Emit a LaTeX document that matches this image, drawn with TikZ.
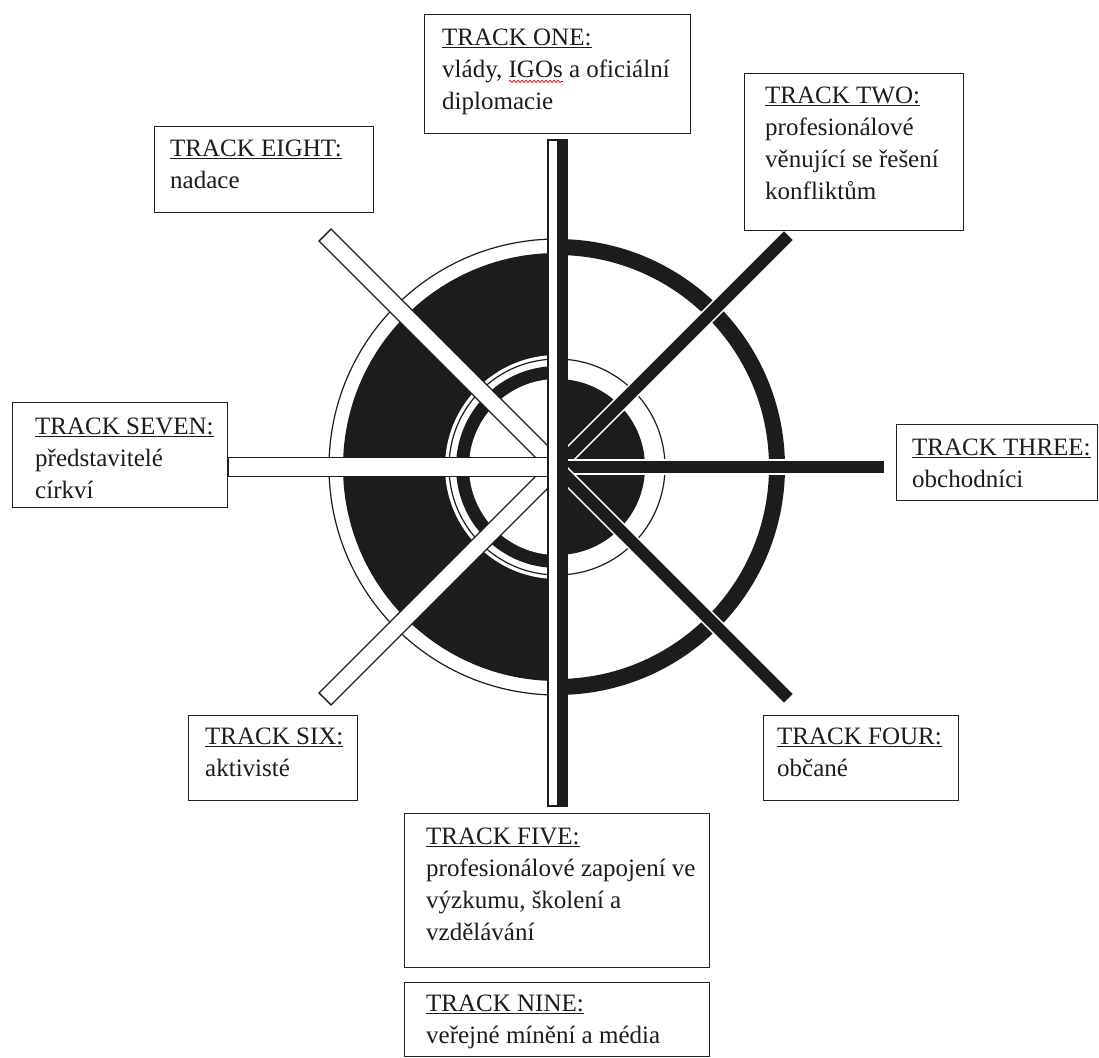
\documentclass[tikz,border=0pt]{standalone}
\usepackage{fontspec}
\setmainfont{Liberation Serif}
\usetikzlibrary{decorations.pathmorphing}
\definecolor{ink}{HTML}{1C1C1C}
\definecolor{boxc}{HTML}{222222}
\begin{document}
\begin{tikzpicture}[x=1pt,y=-1pt,
  box/.style={draw=boxc, line width=1.4pt, fill=white, inner sep=0pt, anchor=north west},
  txt/.style={anchor=north west, inner sep=0pt, align=left, text=ink,
              font=\fontsize{25pt}{32pt}\selectfont},
  whitebar/.style={fill=white, draw=ink, line width=1.3pt},
  blackbar/.style={fill=ink, draw=white, line width=1.3pt},
  spell/.style={red, line width=0.7pt, decorate,
                decoration={snake, amplitude=1.1pt, segment length=4pt}}]
\useasboundingbox (0,0) rectangle (1099,1057);
\fill[white] (0,0) rectangle (1099,1057);

% ---------- wheel ----------
\begin{scope}[shift={(557,467)}]
  % left half
  \begin{scope}
    \clip (-300,-300) rectangle (0,300);
    \draw[ink, line width=1.2pt] (0,0) circle[radius=228pt];
    \fill[ink] (0,0) circle[radius=214pt];
    \fill[white] (0,0) circle[radius=112pt];
    \fill[ink] (0,0) circle[radius=101pt];
    \fill[white] (0,0) circle[radius=88pt];
  \end{scope}
  \draw[ink, line width=1.2pt] (0,0) circle[radius=108pt];
  % right half
  \begin{scope}
    \clip (0,-300) rectangle (300,300);
    \draw[ink, line width=16pt] (0,0) circle[radius=220pt];
    \fill[ink] (0,0) circle[radius=88pt];
  \end{scope}
  % spokes
  \foreach \a in {45,0,-45}
    \filldraw[blackbar, rotate=\a] (0,-7) rectangle (328,7);
  \foreach \a in {135,225}
    \filldraw[whitebar, rotate=\a] (0,-8.5) rectangle (328,8.5);
  \filldraw[whitebar] (-329,-9.5) rectangle (0,9.5);
  % vertical spoke
  \filldraw[whitebar] (-9,-327) rectangle (10,339);
  \fill[ink] (0,-327) rectangle (10,339);
\end{scope}

% ---------- boxes ----------
\node[box, minimum width=266pt, minimum height=119pt] (b1) at (424,14) {};
\node[box, minimum width=219pt, minimum height=157pt] (b2) at (744,73) {};
\node[box, minimum width=201pt, minimum height=76pt]  (b3) at (896,424) {};
\node[box, minimum width=195pt, minimum height=85pt]  (b4) at (763,715) {};
\node[box, minimum width=305pt, minimum height=154pt] (b5) at (404,813) {};
\node[box, minimum width=169pt, minimum height=85pt]  (b6) at (188,715) {};
\node[box, minimum width=215pt, minimum height=105pt] (b7) at (12,402) {};
\node[box, minimum width=219pt, minimum height=86pt]  (b8) at (154,126) {};
\node[box, minimum width=305pt, minimum height=74pt]  (b9) at (404,982) {};

% ---------- texts ----------
\node[txt] (t1) at ([shift={(18pt,-15pt)}]b1.north west)
  {\underline{TRACK ONE:}\\vlády, IGOs a oficiální\\diplomacie};
\node[txt] (t2) at ([shift={(21pt,-14pt)}]b2.north west)
  {\underline{TRACK TWO:}\\profesionálové\\věnující se řešení\\konfliktům};
\node[txt] (t3) at ([shift={(16pt,-15pt)}]b3.north west)
  {\underline{TRACK THREE:}\\obchodníci};
\node[txt] (t4) at ([shift={(14pt,-13pt)}]b4.north west)
  {\underline{TRACK FOUR:}\\občané};
\node[txt] (t5) at ([shift={(22pt,-15pt)}]b5.north west)
  {\underline{TRACK FIVE:}\\profesionálové zapojení ve\\výzkumu, školení a\\vzdělávání};
\node[txt] (t6) at ([shift={(17pt,-13pt)}]b6.north west)
  {\underline{TRACK SIX:}\\aktivisté};
\node[txt] (t7) at ([shift={(23pt,-16pt)}]b7.north west)
  {\underline{TRACK SEVEN:}\\představitelé\\církví};
\node[txt] (t8) at ([shift={(16pt,-14pt)}]b8.north west)
  {\underline{TRACK EIGHT:}\\nadace};
\node[txt] (t9) at ([shift={(22pt,-13pt)}]b9.north west)
  {\underline{TRACK NINE:}\\veřejné mínění a média};

% spell-check squiggle under "IGOs"
\node[txt, anchor=base west] (m1) at ([yshift=-48.4pt]t1.north west) {\phantom{vlády,\ }};
\node[txt, anchor=base west] (m2) at ([yshift=-48.4pt]t1.north west) {\phantom{vlády,\ IGOs}};
\draw[spell] ([yshift=-4pt]m1.base east) -- ([yshift=-4pt]m2.base east);
\end{tikzpicture}
\end{document}
